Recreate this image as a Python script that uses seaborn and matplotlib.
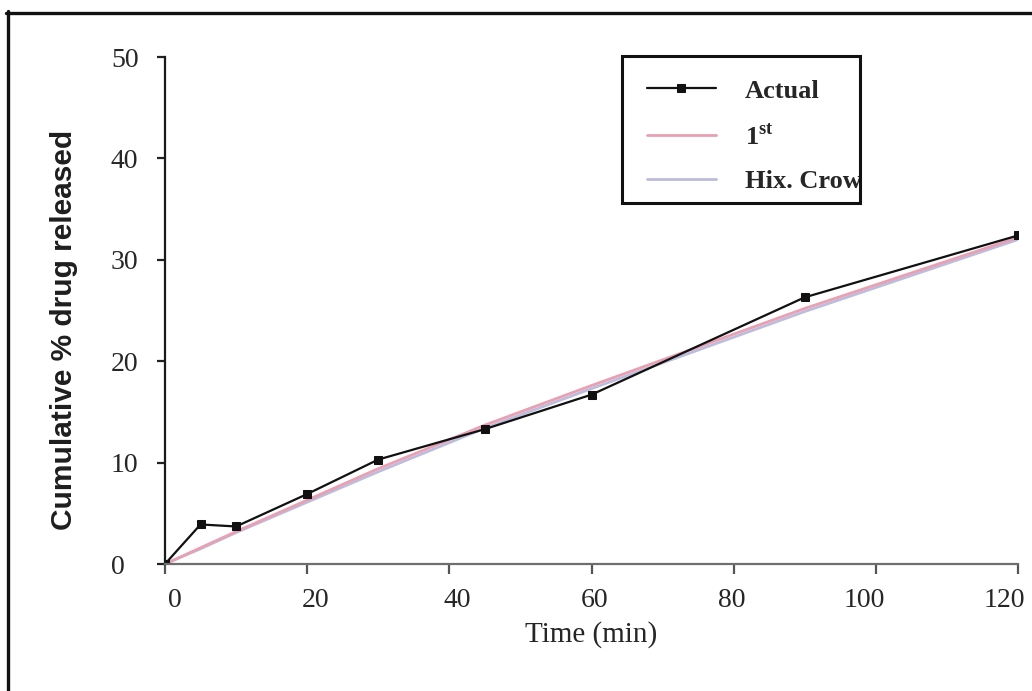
import matplotlib
matplotlib.use("Agg")
import matplotlib.pyplot as plt
from matplotlib.lines import Line2D
from matplotlib.patches import Rectangle
import matplotlib.transforms as mtransforms
import seaborn as sns
import pandas as pd

# Release-time points (min)
time_min = [0, 5, 10, 20, 30, 45, 60, 90, 120]
# Observed cumulative % drug released
actual = [0, 3.9, 3.7, 6.9, 10.3, 13.3, 16.7, 26.3, 32.4]
# First-order model fit
first_order = [0, 1.6, 3.2, 6.3, 9.4, 13.7, 17.6, 25.2, 32.2]
# Hixson-Crowell model fit
hix_crow = [0, 1.5, 3.1, 6.1, 9.1, 13.4, 17.3, 24.9, 32.0]

x_ticks = [0, 20, 40, 60, 80, 100, 120]
y_ticks = [0, 10, 20, 30, 40, 50]
series_names = ["Actual", r"1$^{\mathbf{st}}$", "Hix. Crow"]

sns.set_style("white")
plt.rcParams["font.family"] = ["Liberation Serif", "DejaVu Serif"]
plt.rcParams["mathtext.fontset"] = "custom"
plt.rcParams["mathtext.rm"] = "Liberation Serif:bold"
plt.rcParams["mathtext.bf"] = "Liberation Serif:bold"

df = pd.DataFrame({"t": time_min, "actual": actual,
                   "first": first_order, "hix": hix_crow})

W, H = 1032, 691
fig = plt.figure(figsize=(W / 100, H / 100), dpi=100)
ax = fig.add_axes([165 / W, 1 - 564 / H, (1018 - 165) / W, (564 - 57) / H])

sns.lineplot(data=df, x="t", y="hix", ax=ax, color="#bcbcdc", lw=2.0, label=series_names[2])
sns.lineplot(data=df, x="t", y="first", ax=ax, color="#e8a0b2", lw=2.0, label=series_names[1])
sns.lineplot(data=df, x="t", y="actual", ax=ax, color="#111111", lw=1.6,
             marker="s", markersize=5.5, markeredgecolor="#111111", label=series_names[0])

ax.set_xlim(0, 120)
ax.set_ylim(0, 50)
ax.set_xticks(x_ticks)
ax.set_yticks(y_ticks)
ax.set_xlabel("Time (min)", fontsize=21, labelpad=6)
ax.set_ylabel("")

for side in ["top", "right"]:
    ax.spines[side].set_visible(False)
ax.spines["left"].set_color("#1a1a1a")
ax.spines["left"].set_linewidth(1.6)
ax.spines["bottom"].set_color("#6e6e6e")
ax.spines["bottom"].set_linewidth(1.6)

ax.tick_params(axis="x", bottom=True, direction="out", length=7, width=1.6,
               color="#555555", labelsize=20, pad=10)
ax.tick_params(axis="y", left=True, direction="out", length=6, width=1.6,
               color="#222222", labelsize=20, pad=33)
for lab in ax.get_yticklabels():
    lab.set_horizontalalignment("left")

# x tick labels sit on an evenly compressed spacing relative to the ticks
label_shift_px = [10, 8, 8, 3, -2, -12, -14]
for lab, dx in zip(ax.get_xticklabels(), label_shift_px):
    lab.set_transform(lab.get_transform() +
                      mtransforms.ScaledTranslation(dx / 100, 0, fig.dpi_scale_trans))

fig.text(64 / W, 1 - 330 / H, "Cumulative % drug released", rotation=90,
         ha="center", va="center", fontsize=21.5, fontweight="bold",
         family=["Liberation Sans", "DejaVu Sans"], color="#1e1e1e")

handles, labels = ax.get_legend_handles_labels()
order = [labels.index(n) for n in series_names]
leg = ax.legend([handles[i] for i in order], [labels[i] for i in order],
                loc="upper left", bbox_to_anchor=(622 / W, 1 - 54 / H),
                bbox_transform=fig.transFigure, frameon=False,
                borderaxespad=0, borderpad=0.95,
                handlelength=2.6, handletextpad=1.1, labelspacing=0.78,
                prop={"family": "Liberation Serif", "weight": "bold", "size": 19})

# Legend box outline
fig.add_artist(Rectangle((622 / W, 1 - 203 / H), (860 - 622) / W, (203 - 56) / H,
                         transform=fig.transFigure, fill=False,
                         edgecolor="#111111", lw=2.2))

# Outer frame along the top and left edges
fig.add_artist(Line2D([6 / W, 1], [1 - 12.5 / H, 1 - 12.5 / H],
                      transform=fig.transFigure, color="#111111", lw=2.4))
fig.add_artist(Line2D([8 / W, 8 / W], [0, 1 - 11 / H],
                      transform=fig.transFigure, color="#111111", lw=2.4))

fig.savefig("out.png", dpi=100)
